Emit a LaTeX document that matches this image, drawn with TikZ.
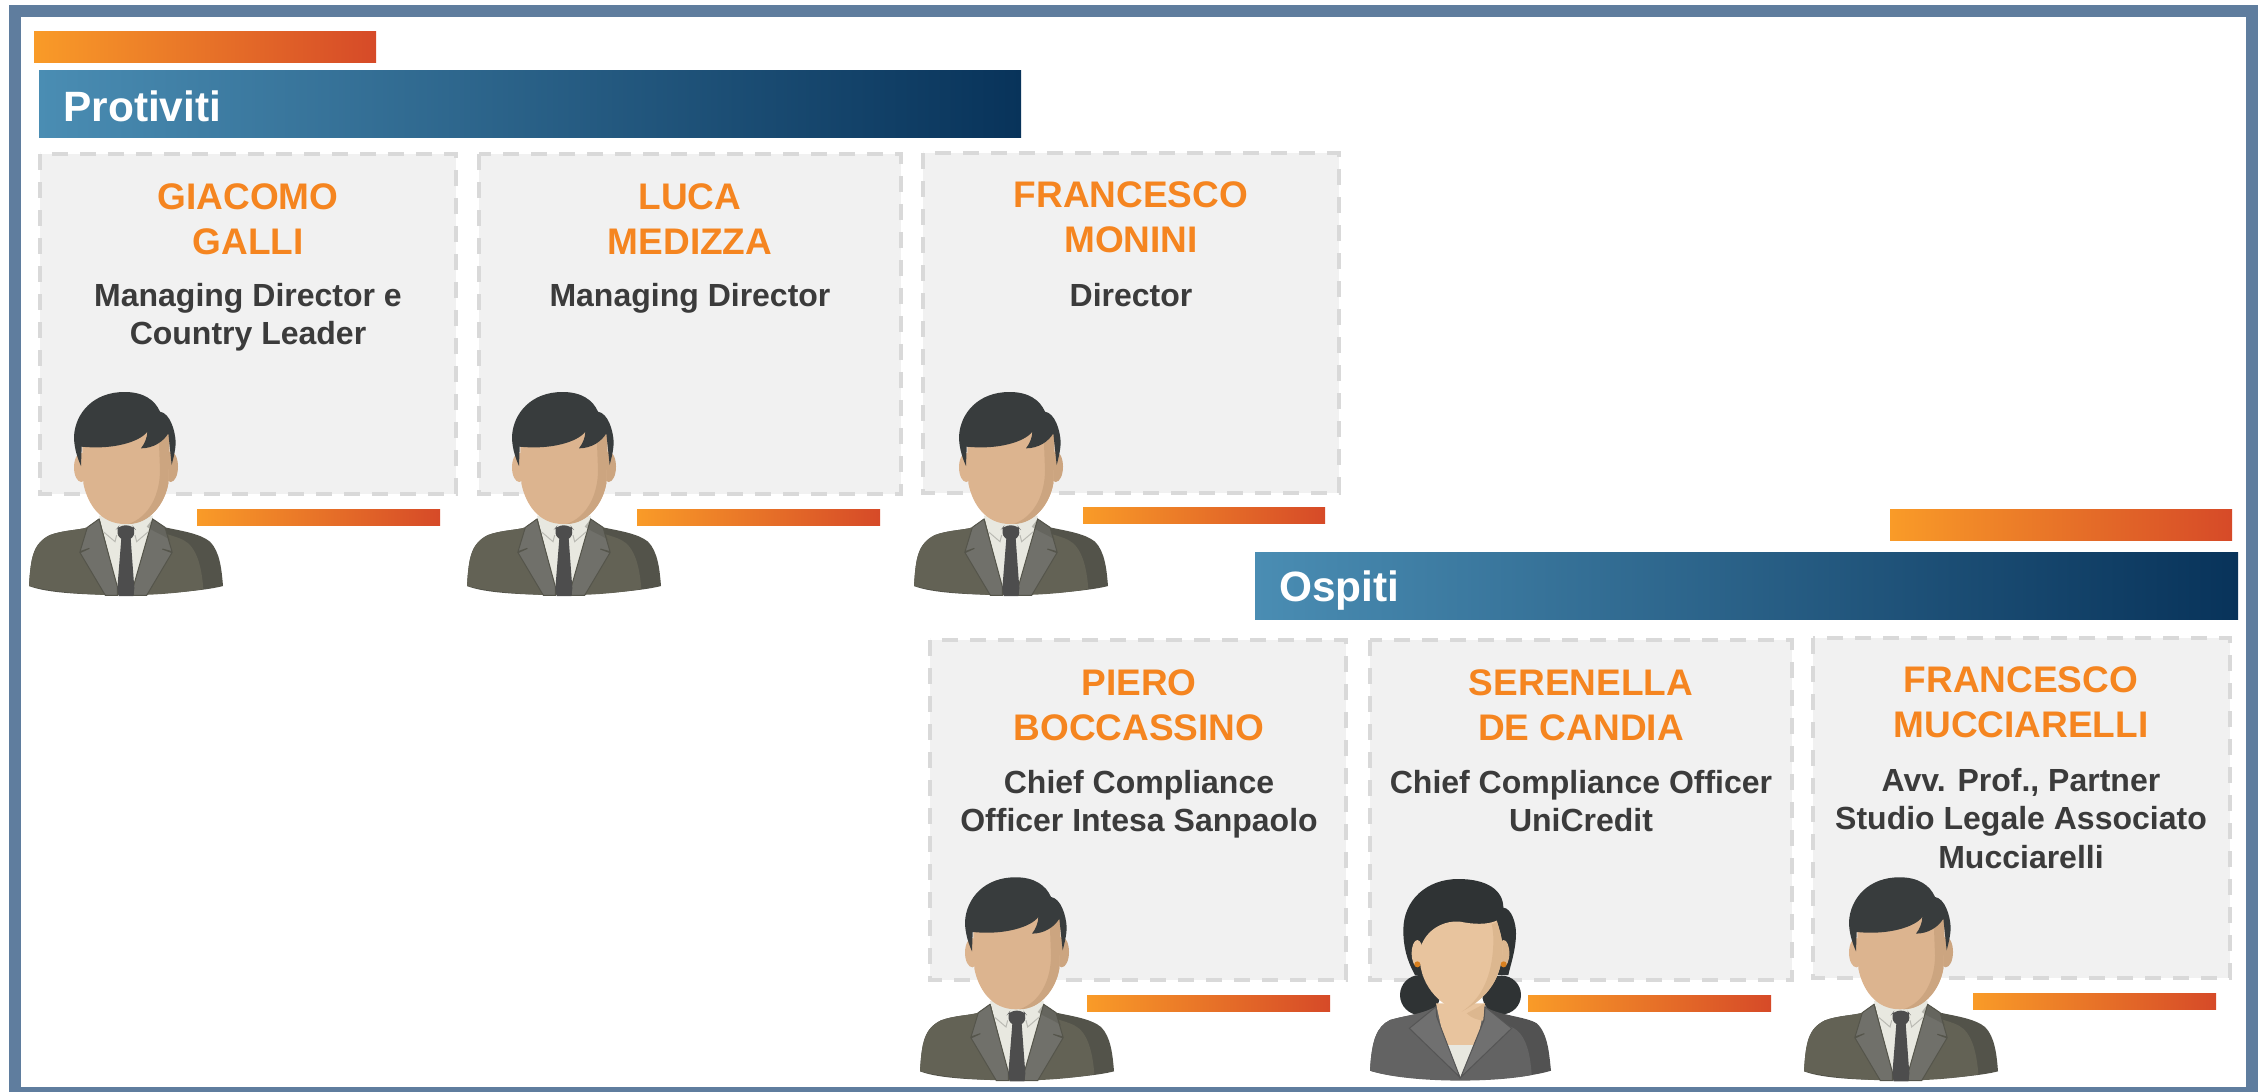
\documentclass[tikz,border=0pt]{standalone}
\usepackage{fontspec}
\setmainfont{Liberation Sans}
\definecolor{framec}{HTML}{5F7D9E}
\definecolor{org}{HTML}{F99B28}
\definecolor{orgb}{HTML}{E8792A}
\definecolor{red1}{HTML}{D64A28}
\definecolor{blu}{HTML}{4A8DB3}
\definecolor{blum}{HTML}{33698C}
\definecolor{bluk}{HTML}{08335A}
\definecolor{namec}{HTML}{F58520}
\definecolor{rolec}{HTML}{3B3B3B}
\definecolor{mhair}{HTML}{383C3D}
\definecolor{mskin}{HTML}{DCB48F}
\definecolor{mshade}{HTML}{CCA580}
\definecolor{msuit}{HTML}{636255}
\definecolor{mdark}{HTML}{53534A}
\definecolor{mlap}{HTML}{70706A}
\definecolor{mline}{HTML}{55554B}
\definecolor{mshirt}{HTML}{E8E8E0}
\definecolor{mtie}{HTML}{4D4D4D}
\definecolor{wsuit}{HTML}{636363}
\definecolor{wdark}{HTML}{525252}
\definecolor{wlap}{HTML}{707070}
\definecolor{wline}{HTML}{555555}
\definecolor{wskin}{HTML}{E8C49E}
\definecolor{wshade}{HTML}{DCB78F}
\definecolor{whair}{HTML}{2F3334}
\definecolor{wear}{HTML}{D9801F}
\tikzset{
  box/.style={draw=black!15,fill=black!5.5,line width=2pt,dash pattern=on 8pt off 6pt},
  orgbar/.style={left color=org,middle color=orgb,right color=red1},
  blubar/.style={left color=blu,middle color=blum,right color=bluk},
  nametext/.style={text=namec,font=\bfseries\fontsize{18.5}{22.5}\selectfont,align=center,anchor=north,inner sep=0pt},
  roletext/.style={text=rolec,font=\bfseries\fontsize{16}{19.2}\selectfont,align=center,anchor=north,inner sep=0pt},
  headtext/.style={text=white,font=\bfseries\fontsize{21.2}{25}\selectfont,anchor=base west,inner sep=0pt},
}
\newcommand{\manfig}[2]{%
\begin{scope}[shift={(#1,#2)},x=.16667pt,y=-.16667pt]
 \fill[mdark] (87,648) .. controls (92,560) and (100,520) .. (150,495) .. controls (190,480) and (240,480) .. (262,472) -- (297,447) -- (458,447) -- (495,472) .. controls (540,482) and (600,490) .. (630,515) .. controls (660,545) and (665,600) .. (669,648) .. controls (570,675) and (190,690) .. (87,648) -- cycle;
 \fill[msuit] (87,648) .. controls (92,560) and (100,520) .. (150,495) .. controls (190,480) and (240,480) .. (262,472) -- (297,447) -- (440,470) .. controls (480,490) and (520,495) .. (550,510) .. controls (590,530) and (605,590) .. (610,657) .. controls (450,686) and (220,680) .. (87,648) -- cycle;
 \fill[mshirt] (297,437) -- (458,437) -- (458,447) -- (400,655) -- (352,655) -- cycle;
 \fill[mlap,draw=mline,line width=.5pt] (297,447) -- (262,472) -- (240,545) -- (268,535) -- (240,548) -- (316,676) -- (352,676) -- (352,650) -- cycle;
 \fill[mlap,draw=mline,line width=.5pt] (458,447) -- (495,472) -- (516,545) -- (487,537) -- (516,548) -- (440,676) -- (400,676) -- (400,650) -- cycle;
 \fill[mdark,opacity=.35] (440,470) -- (458,447) -- (495,472) -- (510,510) .. controls (490,495) and (460,485) .. (440,470) -- cycle;
 \draw[mshirt!80!black,line width=.5pt] (310,485) -- (345,515) -- (350,495);
 \draw[mshirt!80!black,line width=.5pt] (445,485) -- (410,515) -- (405,495);
 \fill[mtie,rounded corners=3pt] (347,480) -- (358,466) -- (397,466) -- (408,480) -- (394,512) -- (362,512) -- cycle;
 \fill[mtie] (364,505) -- (352,655) -- (356,678) -- (400,678) -- (403,655) -- (392,505) -- cycle;
 \fill[mskin] (244,292) ellipse [x radius=22, y radius=44];
 \fill[mshade] (512,290) ellipse [x radius=22, y radius=46];
 \fill[mskin] (245,170) -- (250,340) .. controls (262,400) and (300,462) .. (375,462) .. controls (450,462) and (495,400) .. (505,340) -- (510,170) -- cycle;
 \fill[mshade] (475,170) -- (480,300) .. controls (480,370) and (450,440) .. (385,462) .. controls (450,462) and (495,400) .. (505,340) -- (510,170) -- cycle;
 \fill[mhair] (243,288) .. controls (228,255) and (222,225) .. (222,200) .. controls (225,130) and (280,65) .. (375,66) .. controls (430,66) and (465,90) .. (480,125) .. controls (510,130) and (525,180) .. (527,215) .. controls (527,240) and (520,265) .. (515,285) -- (505,190) .. controls (490,215) and (460,235) .. (423,235) .. controls (435,220) and (442,200) .. (442,185) .. controls (420,215) and (340,240) .. (245,230) -- cycle;
\end{scope}}
\newcommand{\womanfig}[2]{%
\begin{scope}[shift={(#1,#2)},x=.16667pt,y=-.16667pt]
 \fill[whair] (240,405) circle [radius=60];
 \fill[whair] (485,405) circle [radius=58];
 \fill[whair] (225,345) .. controls (200,300) and (190,260) .. (190,210) .. controls (190,120) and (260,57) .. (355,57) .. controls (440,57) and (490,90) .. (490,143) .. controls (515,145) and (528,190) .. (528,220) .. controls (528,270) and (510,320) .. (505,345) -- cycle;
 \fill[wdark] (90,632) .. controls (95,540) and (110,500) .. (150,480) .. controls (200,465) and (240,465) .. (288,440) -- (435,440) .. controls (470,465) and (560,470) .. (590,490) .. controls (625,520) and (628,590) .. (633,632) .. controls (520,668) and (200,668) .. (90,632) -- cycle;
 \fill[wsuit] (90,632) .. controls (95,540) and (110,500) .. (150,480) .. controls (200,465) and (240,465) .. (288,440) -- (430,480) .. controls (480,490) and (520,495) .. (540,520) .. controls (565,550) and (572,600) .. (575,645) .. controls (450,670) and (200,668) .. (90,632) -- cycle;
 \fill[wskin] (288,430) -- (435,430) -- (410,555) -- (315,555) -- cycle;
 \fill[wshade] (380,460) .. controls (395,475) and (415,480) .. (430,482) -- (435,430) -- cycle;
 \fill[mshirt] (315,555) -- (408,555) -- (362,652) -- cycle;
 \fill[wlap,draw=wline,line width=.5pt] (288,440) -- (208,505) -- (360,652) -- (290,470) -- cycle;
 \fill[wlap,draw=wline,line width=.5pt] (435,440) -- (515,505) -- (362,652) -- (432,480) -- cycle;
 \fill[wskin] (232,280) ellipse [x radius=17, y radius=40];
 \fill[wshade] (491,280) ellipse [x radius=17, y radius=40];
 \fill[wskin] (240,270) .. controls (250,220) and (300,180) .. (360,185) .. controls (400,193) and (440,195) .. (470,182) .. controls (478,210) and (490,240) .. (487,280) .. controls (480,370) and (430,420) .. (365,455) .. controls (300,440) and (230,370) .. (240,270) -- cycle;
 \fill[wshade] (455,192) .. controls (470,190) and (470,185) .. (470,182) .. controls (478,210) and (490,240) .. (487,280) .. controls (480,370) and (430,420) .. (365,455) .. controls (420,420) and (450,360) .. (458,280) .. controls (462,240) and (460,215) .. (455,192) -- cycle;
 \fill[wear] (232,313) circle [radius=9];
 \fill[wear] (491,313) circle [radius=9];
\end{scope}}
\begin{document}
\begin{tikzpicture}[x=.5pt,y=-.5pt]
\useasboundingbox (0,0) rectangle (2260,1092);
\draw[framec,line width=6pt] (15,11) rectangle (2252,1093);
% headers
\path[orgbar] (34,31) rectangle (376,62);
\path[blubar] (39,70) rectangle (1021,137);
\node[headtext] (h1) at (63,121) {Protiviti};
\path[orgbar] (1890,509) rectangle (2232,540);
\path[blubar] (1255,552) rectangle (2238,619);
\node[headtext] (h2) at (1279,601) {Ospiti};
% boxes
\draw[box] (40,154) rectangle (456,494);
\draw[box] (479,154) rectangle (901,494);
\draw[box] (923,153) rectangle (1339,493);
\draw[box] (930,640) rectangle (1346,980);
\draw[box] (1370,640) rectangle (1792,980);
\draw[box] (1813,638) rectangle (2230,978);
% names
\node[nametext] (n1) at (248,183) {GIACOMO\\GALLI};
\node[nametext] (n2) at (690,183) {LUCA\\MEDIZZA};
\node[nametext] (n3) at (1131,181.5) {FRANCESCO\\MONINI};
\node[nametext] (n4) at (1139,669) {PIERO\\BOCCASSINO};
\node[nametext] (n5) at (1581,669) {SERENELLA\\DE CANDIA};
\node[nametext] (n6) at (2021,666.5) {FRANCESCO\\MUCCIARELLI};
% roles
\node[roletext] (r1) at (248,283) {Managing Director e\\Country Leader};
\node[roletext] (r2) at (690,283) {Managing Director};
\node[roletext] (r3) at (1131,283) {Director};
\node[roletext] (r4) at (1139,770) {Chief Compliance\\Officer Intesa Sanpaolo};
\node[roletext] (r5) at (1581,770) {Chief Compliance Officer\\UniCredit};
\node[roletext] (r6) at (2021,768) {Avv. Prof., Partner\\Studio Legale Associato\\Mucciarelli};
% small bars
\path[orgbar] (197,509) rectangle (440,525);
\path[orgbar] (637,509) rectangle (880,525);
\path[orgbar] (1083,507) rectangle (1325,523);
\path[orgbar] (1087,995) rectangle (1330,1011);
\path[orgbar] (1528,995) rectangle (1771,1011);
\path[orgbar] (1973,993) rectangle (2216,1009);
% people
\manfig{0}{370}
\manfig{438}{370}
\manfig{885}{370}
\manfig{891}{855.3}
\womanfig{1340}{860}
\manfig{1775}{855.3}
\end{tikzpicture}
\end{document}
